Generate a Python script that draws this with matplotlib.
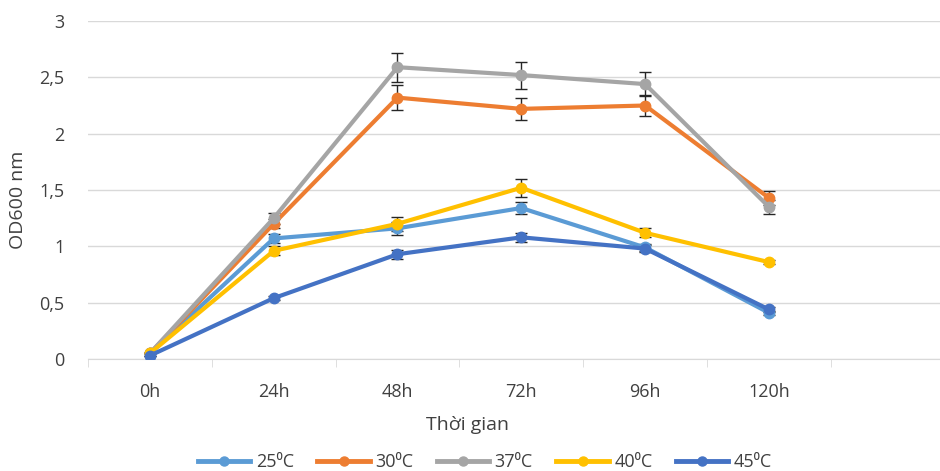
import numpy as np
import matplotlib.pyplot as plt

# thoi gian nuoi cay
times = ["0h", "24h", "48h", "72h", "96h", "120h"]
labels = ["25\u2070C", "30\u2070C", "37\u2070C", "40\u2070C", "45\u2070C"]
colors = ["#5B9BD5", "#ED7D31", "#A5A5A5", "#FFC000", "#4472C4"]

od_25 = [0.05, 1.07, 1.16, 1.34, 0.99, 0.41]
od_30 = [0.05, 1.20, 2.32, 2.22, 2.25, 1.43]
od_37 = [0.05, 1.25, 2.59, 2.52, 2.44, 1.35]
od_40 = [0.05, 0.96, 1.20, 1.52, 1.12, 0.86]
od_45 = [0.03, 0.54, 0.93, 1.08, 0.98, 0.44]

err_25 = [0.0, 0.04, 0.06, 0.05, 0.03, 0.02]
err_30 = [0.0, 0.04, 0.11, 0.10, 0.09, 0.06]
err_37 = [0.0, 0.05, 0.13, 0.12, 0.11, 0.06]
err_40 = [0.0, 0.04, 0.06, 0.08, 0.04, 0.02]
err_45 = [0.0, 0.02, 0.04, 0.04, 0.03, 0.02]

series = [od_25, od_30, od_37, od_40, od_45]
errors = [err_25, err_30, err_37, err_40, err_45]

plt.rcParams['font.family'] = ['Open Sans', 'DejaVu Sans']
txt = "#404040"

fig = plt.figure(figsize=(9.4, 4.71), dpi=100)
# vung ve: trai 88px, tren 21px, duoi 359px
ax = fig.add_axes([88 / 940, 1 - 359 / 471, 1 - 88 / 940, (359 - 21) / 471])

x = np.arange(len(times))
for y, e, c, lab in zip(series, errors, colors, labels):
    ax.errorbar(x, y, yerr=e, color=c, lw=3, marker='o', ms=7.5,
                ecolor='#262626', elinewidth=1, capsize=4, capthick=1,
                label=lab, zorder=3)

ax.set_yticks(np.arange(0, 3.01, 0.5))
ax.set_yticklabels(["0", "0,5", "1", "1,5", "2", "2,5", "3"])
ax.set_xticks(x)
ax.set_xticklabels(times)
ax.set_xticks(np.arange(-0.5, 7, 1), minor=True)
# dat gioi han sau set_xticks (set_xticks mo rong truc)
ax.set_ylim(0, 3)
ax.set_xlim(-0.5, 852 / 123.8 - 0.5)
ax.tick_params(axis='x', which='major', length=0, pad=17, labelsize=13, labelcolor=txt)
ax.tick_params(axis='x', which='minor', length=6, color='#D9D9D9')
ax.tick_params(axis='y', length=0, pad=17, labelsize=13, labelcolor=txt)
ax.grid(axis='y', color='#D9D9D9', lw=1)
ax.set_axisbelow(True)
for s in ['top', 'right', 'left']:
    ax.spines[s].set_visible(False)
ax.spines['bottom'].set_color('#D9D9D9')

ax.set_xlabel("Thời gian", fontsize=14, color=txt)
ax.xaxis.set_label_coords((468 - 88) / 852, (359 - 416) / 338)
ax.set_ylabel("OD600 nm", fontsize=14, color=txt)
ax.yaxis.set_label_coords((27 - 88) / 852, (359 - 200) / 338)

handles = [plt.Line2D([], [], color=c, lw=3.5, marker='o', ms=6.5) for c in colors]
fig.legend(handles, labels, loc='center', bbox_to_anchor=(485 / 940, 1 - 462 / 471), ncol=5,
           frameon=False, fontsize=13, labelcolor=txt, handlelength=2.9,
           handletextpad=0.3, columnspacing=1.3, borderpad=0)

fig.savefig("out.png", dpi=100)
